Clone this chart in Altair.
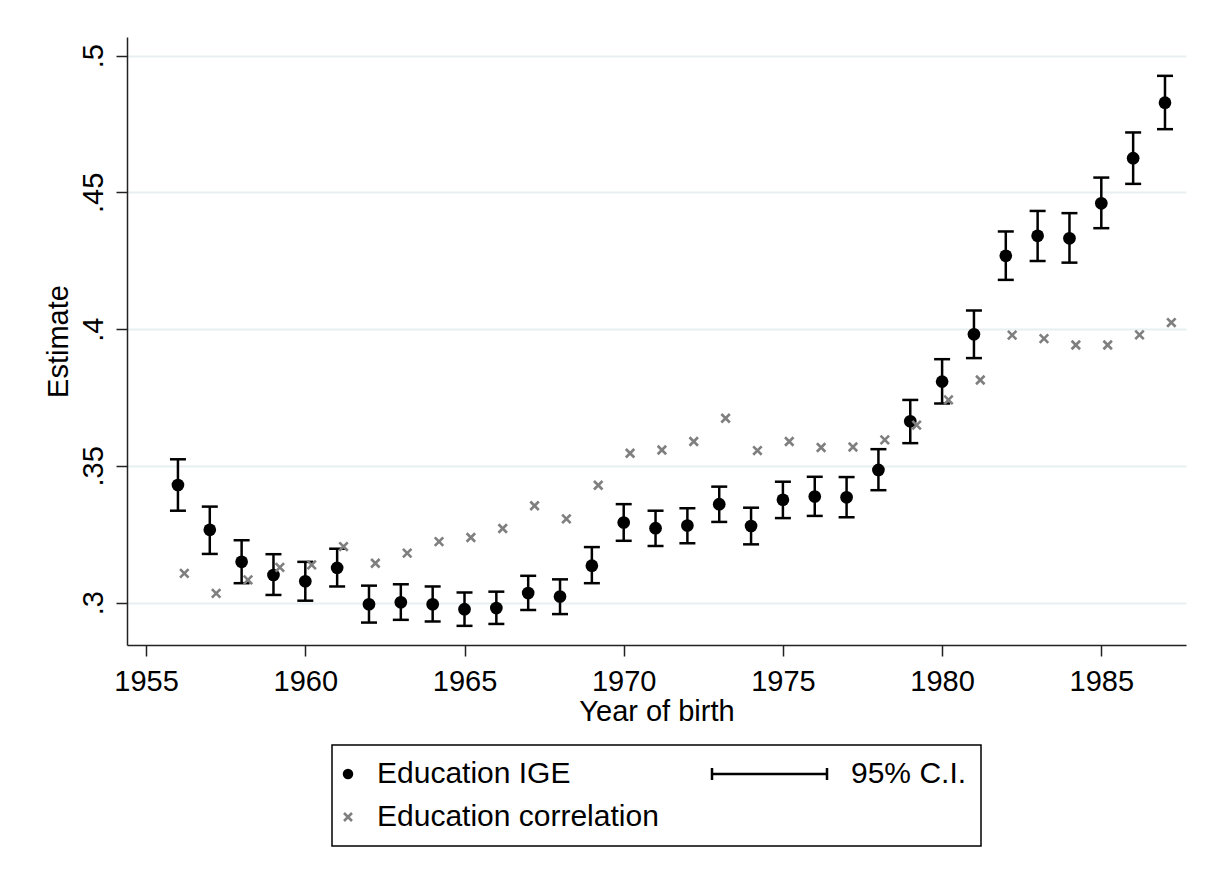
import altair as alt
import pandas as pd

# ---------------- data ----------------
years = list(range(1956, 1988))
ige = [0.3430, 0.3266, 0.3149, 0.3101, 0.3078, 0.3127, 0.2994, 0.3001, 0.2994, 0.2976,
       0.2980, 0.3035, 0.3022, 0.3135, 0.3293, 0.3272, 0.3282, 0.3360, 0.3280, 0.3376,
       0.3388, 0.3385, 0.3485, 0.3663, 0.3808, 0.3981, 0.4268, 0.4341, 0.4332, 0.4460,
       0.4625, 0.4828]
ci_lo = [0.3336, 0.3178, 0.3071, 0.3028, 0.3007, 0.3059, 0.2927, 0.2937, 0.2931, 0.2915,
         0.2922, 0.2973, 0.2958, 0.3071, 0.3226, 0.3207, 0.3217, 0.3295, 0.3213, 0.3309,
         0.3317, 0.3312, 0.3411, 0.3583, 0.3728, 0.3894, 0.4180, 0.4249, 0.4243, 0.4369,
         0.4531, 0.4731]
ci_hi = [0.3524, 0.3351, 0.3228, 0.3177, 0.3149, 0.3197, 0.3062, 0.3067, 0.3059, 0.3037,
         0.3040, 0.3098, 0.3085, 0.3203, 0.3360, 0.3336, 0.3345, 0.3424, 0.3347, 0.3442,
         0.3460, 0.3459, 0.3561, 0.3741, 0.3890, 0.4068, 0.4357, 0.4432, 0.4424, 0.4554,
         0.4719, 0.4926]
corr = [0.3107, 0.3034, 0.3083, 0.3129, 0.3138, 0.3205, 0.3144, 0.3181, 0.3223, 0.3238,
        0.3271, 0.3354, 0.3306, 0.3429, 0.3546, 0.3558, 0.3589, 0.3674, 0.3556, 0.3589,
        0.3567, 0.3569, 0.3595, 0.3649, 0.3741, 0.3814, 0.3978, 0.3965, 0.3942, 0.3942,
        0.3979, 0.4024]
corr_shift = 0.2  # correlation markers are drawn slightly right of each year

x_ticks = [1955, 1960, 1965, 1970, 1975, 1980, 1985]
y_ticks = [0.3, 0.35, 0.4, 0.45, 0.5]
series_names = ["Education IGE", "95% C.I.", "Education correlation"]
series_colors = ["black", "black", "#7f7f7f"]

# ---------------- tables ----------------
ige_df = pd.DataFrame({"year": years, "value": ige, "lo": ci_lo, "hi": ci_hi,
                       "series": "Education IGE"})
corr_df = pd.DataFrame({"year": [y + corr_shift for y in years], "value": corr,
                        "series": "Education correlation"})

FONT = "Liberation Sans"
X_PATH = "M-1,-1L1,1M-1,1L1,-1"
CI_PATH = "M-27.5,0H1.25M-27.5,-1.5V1.5M1.25,-1.5V1.5"

xscale = alt.Scale(domain=[1954.4, 1987.66], nice=False, zero=False)
yscale = alt.Scale(domain=[0.2845, 0.5068], nice=False, zero=False)

xaxis = alt.Axis(values=x_ticks, format="d", title="Year of birth", grid=False,
                 labelFont=FONT, titleFont=FONT, labelFontSize=29, titleFontSize=29,
                 labelColor="black", titleColor="black", titleFontWeight="normal",
                 tickSize=11, tickWidth=1.5, tickColor="#222", domainColor="#222",
                 domainWidth=1.5, labelPadding=11, titlePadding=1,
                 labelFlush=False, labelOverlap=False)
yaxis = alt.Axis(values=y_ticks, labelExpr="substring(format(datum.value, '.2~f'), 1)",
                 title="Estimate", grid=True, gridColor="#e7eff1", gridWidth=2,
                 labelFont=FONT, titleFont=FONT, labelFontSize=29, titleFontSize=29,
                 labelColor="black", titleColor="black", titleFontWeight="normal",
                 labelAngle=270, labelAlign="center", labelBaseline="bottom",
                 tickSize=11, tickWidth=1.5, tickColor="#222", domainColor="#222",
                 domainWidth=1.5, labelPadding=8, titlePadding=6,
                 labelFlush=False, labelOverlap=False)

legend = alt.Legend(
    title=None, orient="none", legendX=205, legendY=708, columns=2,
    direction="horizontal",
    columnPadding=48, rowPadding=13, padding=14, strokeColor="black",
    fillColor="white", cornerRadius=0, labelFont=FONT, labelFontSize=30,
    labelColor="black", labelLimit=600, labelOffset=14, symbolOffset=-13,
    symbolSize=64, symbolStrokeWidth=2.5, symbolOpacity=1,
)

shape_enc = alt.Shape("series:N", scale=alt.Scale(domain=series_names,
                                                  range=["circle", CI_PATH, X_PATH]),
                      legend=legend)
fill_enc = alt.Fill("series:N", scale=alt.Scale(domain=series_names, range=series_colors),
                    legend=legend)
stroke_enc = alt.Stroke("series:N", scale=alt.Scale(domain=series_names, range=series_colors),
                        legend=legend)

base = alt.Chart(ige_df)

ci_rule = base.mark_rule(color="black", strokeWidth=2.5).encode(
    x=alt.X("year:Q", scale=xscale, axis=xaxis),
    y=alt.Y("lo:Q", scale=yscale, axis=yaxis),
    y2="hi:Q",
)
cap_lo = base.mark_tick(color="black", orient="horizontal", size=16, thickness=2.5,
                        opacity=1).encode(x="year:Q", y="lo:Q")
cap_hi = base.mark_tick(color="black", orient="horizontal", size=16, thickness=2.5,
                        opacity=1).encode(x="year:Q", y="hi:Q")
dots = base.mark_point(filled=True, size=161, opacity=1, strokeWidth=0).encode(
    x="year:Q", y="value:Q", shape=shape_enc, fill=fill_enc, stroke=stroke_enc)
crosses = alt.Chart(corr_df).mark_point(filled=False, size=72, opacity=1,
                                        strokeWidth=2.6).encode(
    x="year:Q", y="value:Q", shape=shape_enc, fill=fill_enc, stroke=stroke_enc)

chart = alt.layer(ci_rule, cap_lo, cap_hi, dots, crosses).properties(
    width=1059, height=608,
    autosize=alt.AutoSizeParams(type="none"),
    padding={"left": 119, "top": 29, "right": 13, "bottom": 225},
    background="white",
).configure_view(stroke=None).configure_legend(strokeWidth=1.5)

chart.save("out.html", embed_options={"renderer": "svg", "actions": False})
